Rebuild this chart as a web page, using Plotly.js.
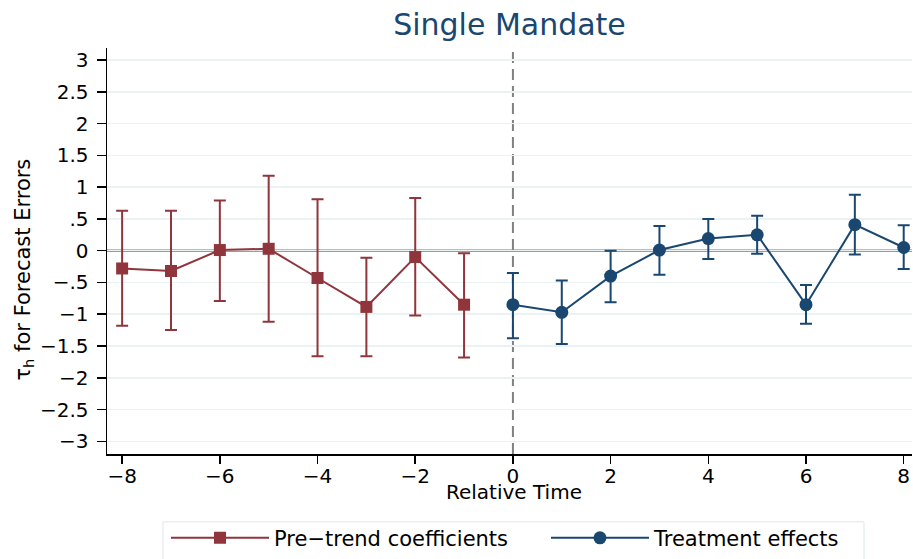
<!DOCTYPE html>
<html>
<head>
<meta charset="utf-8">
<script src="https://cdn.plot.ly/plotly-3.0.1.min.js"></script>
<style>html,body{margin:0;padding:0;background:#fff;}#chart{width:913px;height:559px;}</style>
</head>
<body>
<div id="chart"></div>
<script>
// Pre-trend coefficients
const preX = [-8, -7, -6, -5, -4, -3, -2, -1];
const preY = [-0.28, -0.32, 0.01, 0.03, -0.43, -0.885, -0.10, -0.85];
const preHi = [0.63, 0.63, 0.79, 1.18, 0.81, -0.11, 0.83, -0.04];
const preLo = [-1.18, -1.25, -0.79, -1.12, -1.66, -1.66, -1.02, -1.68];

// Treatment effects
const postX = [0, 1, 2, 3, 4, 5, 6, 7, 8];
const postY = [-0.85, -0.97, -0.40, 0.01, 0.19, 0.25, -0.85, 0.41, 0.05];
const postHi = [-0.35, -0.47, 0.00, 0.39, 0.50, 0.55, -0.54, 0.88, 0.40];
const postLo = [-1.38, -1.47, -0.81, -0.38, -0.13, -0.05, -1.15, -0.06, -0.29];

const yTickVals = [3, 2.5, 2, 1.5, 1, 0.5, 0, -0.5, -1, -1.5, -2, -2.5, -3];
const yTickText = ['3', '2.5', '2', '1.5', '1', '.5', '0', '\u2212.5', '\u22121', '\u22121.5', '\u22122', '\u22122.5', '\u22123'];
const xTickVals = [-8, -6, -4, -2, 0, 2, 4, 6, 8];
const xTickText = ['\u22128', '\u22126', '\u22124', '\u22122', '0', '2', '4', '6', '8'];

const titleText = 'Single Mandate';
const xTitleText = 'Relative Time';
const yTitleText = '\u03c4<sub>h</sub> for Forecast Errors';

const red = '#90353b';
const blue = '#1a476f';

function errPlus(y, hi) { return y.map((v, i) => hi[i] - v); }
function errMinus(y, lo) { return y.map((v, i) => v - lo[i]); }

const traces = [
  {
    x: preX, y: preY, type: 'scatter', mode: 'lines+markers',
    name: 'Pre\u2212trend coefficients', legend: 'legend',
    line: {color: red, width: 2},
    marker: {symbol: 'square', size: 12, color: red},
    error_y: {type: 'data', symmetric: false, array: errPlus(preY, preHi), arrayminus: errMinus(preY, preLo),
              color: red, thickness: 2, width: 6}
  },
  {
    x: postX, y: postY, type: 'scatter', mode: 'lines+markers',
    name: 'Treatment effects', legend: 'legend2',
    line: {color: blue, width: 2},
    marker: {symbol: 'circle', size: 13, color: blue},
    error_y: {type: 'data', symmetric: false, array: errPlus(postY, postHi), arrayminus: errMinus(postY, postLo),
              color: blue, thickness: 2, width: 6}
  }
];

const font = "'DejaVu Sans', 'Liberation Sans', sans-serif";
const legendCommon = {
  orientation: 'h', y: -0.154, yanchor: 'top', xanchor: 'left',
  font: {family: font, size: 21, color: '#000'},
  borderwidth: 0, bgcolor: 'rgba(0,0,0,0)', itemwidth: 98
};

const layout = {
  width: 913, height: 559,
  margin: {l: 107, r: 1, t: 48, b: 104},
  paper_bgcolor: '#ffffff', plot_bgcolor: '#ffffff',
  font: {family: font, color: '#000000', size: 20},
  title: {text: titleText, font: {family: font, size: 30, color: blue}, xref: 'paper', x: 0.5, xanchor: 'center', y: 0.957, yanchor: 'middle'},
  showlegend: true,
  legend: Object.assign({}, legendCommon, {x: 0.0733}),
  legend2: Object.assign({}, legendCommon, {x: 0.5453}),
  xaxis: {
    range: [-8.31, 8.17],
    tickvals: xTickVals, ticktext: xTickText,
    ticks: 'outside', ticklen: 8, tickwidth: 1.5, tickcolor: '#000',
    ticklabelstandoff: -5,
    showline: true, linecolor: '#000', linewidth: 1.5,
    showgrid: false, zeroline: false,
    tickfont: {size: 20}
  },
  yaxis: {
    range: [-3.2, 3.19],
    tickvals: yTickVals, ticktext: yTickText,
    ticks: 'outside', ticklen: 9, tickwidth: 1.5, tickcolor: '#000',
    ticklabelstandoff: 4,
    showline: true, linecolor: '#000', linewidth: 1.5,
    showgrid: true, gridcolor: '#eaf2f3', gridwidth: 1.5,
    zeroline: false,
    tickfont: {size: 20}
  },
  annotations: [
    {text: xTitleText, xref: 'paper', yref: 'paper', x: 0.505, y: -0.093, xanchor: 'center', yanchor: 'middle',
     showarrow: false, font: {family: font, size: 20, color: '#000'}},
    {text: yTitleText, xref: 'paper', yref: 'paper', x: -0.103, y: 0.4545, xanchor: 'center', yanchor: 'middle',
     textangle: -90, showarrow: false, font: {family: font, size: 21, color: '#000'}}
  ],
  shapes: [
    {type: 'line', xref: 'paper', x0: 0, x1: 1, yref: 'y', y0: 0, y1: 0, line: {color: '#7a7a7a', width: 2.2}, layer: 'below'},
    {type: 'line', xref: 'x', x0: 0, x1: 0, yref: 'paper', y0: 0, y1: 1, line: {color: '#808080', width: 2, dash: '11px,6px'}, layer: 'below'},
    {type: 'rect', xref: 'paper', yref: 'paper', x0: 0.0696, x1: 0.9404, y0: -0.1671, y1: -0.28, line: {color: '#dfe7ea', width: 1}, fillcolor: 'rgba(0,0,0,0)', layer: 'above'}
  ]
};

Plotly.newPlot('chart', traces, layout, {displayModeBar: false, staticPlot: true});
</script>
</body>
</html>
